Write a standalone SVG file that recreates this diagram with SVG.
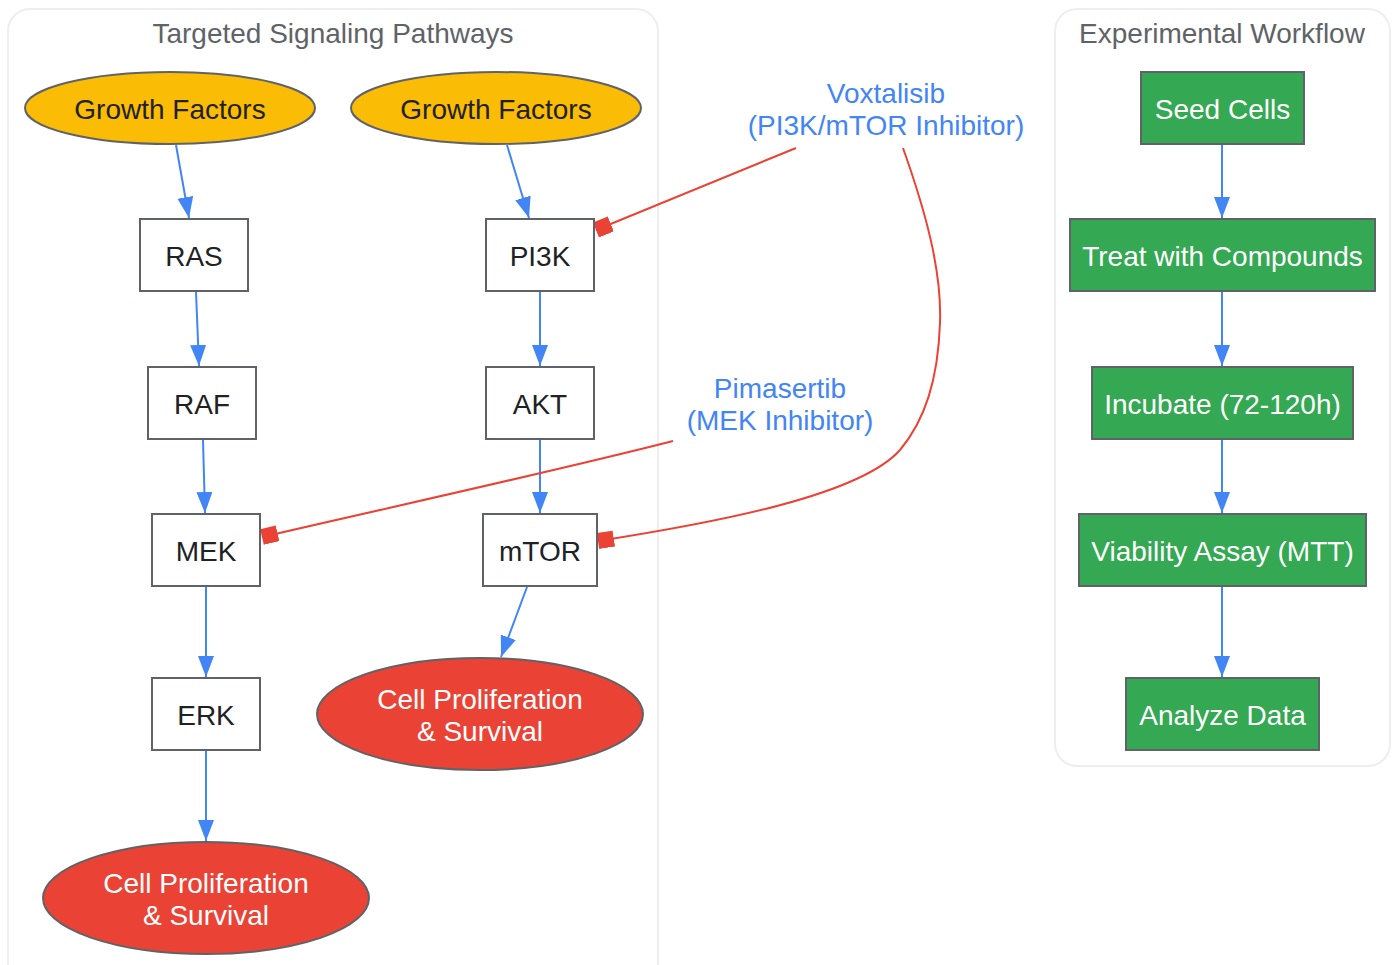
<svg xmlns="http://www.w3.org/2000/svg" width="1394" height="965" viewBox="0 0 1394 965">
<style>
text{font-family:"Liberation Sans",Arial,sans-serif;font-size:28px;text-anchor:middle}
.cl{fill:#ffffff;stroke:#eeeeee;stroke-width:2}
.ct{fill:#5f6368}
.box{fill:#ffffff;stroke:#5f6368;stroke-width:2}
.gf{fill:#fbbc05;stroke:#5f6368;stroke-width:2}
.cp{fill:#ea4335;stroke:#5f6368;stroke-width:2}
.wf{fill:#34a853;stroke:#5f6368;stroke-width:2}
.dk{fill:#202124}
.wt{fill:#ffffff}
.lb{fill:#4285f4}
.e{fill:none;stroke:#4285f4;stroke-width:2;marker-end:url(#arr)}
.inh{fill:none;stroke:#ea4335;stroke-width:2;marker-end:url(#tee)}
</style>
<defs>
<marker id="arr" markerUnits="userSpaceOnUse" markerWidth="24" markerHeight="18" refX="21" refY="8" orient="auto">
<path d="M0,0 L21,8 L0,16 z" fill="#4285f4"/>
</marker>
<marker id="tee" markerUnits="userSpaceOnUse" markerWidth="18" markerHeight="18" refX="16" refY="8" orient="auto">
<rect x="0" y="0" width="16" height="16" fill="#ea4335"/>
</marker>
</defs>
<rect width="1394" height="965" fill="#ffffff"/>
<g id="cluster_pathways">
<rect class="cl" x="8" y="9" width="650" height="980" rx="22"/>
<text class="ct" x="333" y="43">Targeted Signaling Pathways</text>
</g>
<g id="cluster_workflow">
<rect class="cl" x="1055" y="9" width="335" height="757" rx="22"/>
<text class="ct" x="1222" y="43">Experimental Workflow</text>
</g>
<g id="connectors">
<path class="e" d="M176,145 L189,218"/>
<path class="e" d="M507,145 L529,218"/>
<path class="e" d="M196,292 L199,366"/>
<path class="e" d="M203,440 L205,513"/>
<path class="e" d="M206,587 L206,677"/>
<path class="e" d="M206,751 L206,841"/>
<path class="e" d="M540,292 L540,366"/>
<path class="e" d="M540,440 L540,513"/>
<path class="e" d="M527,587 L501,657"/>
<path class="e" d="M1222,145 L1222,218"/>
<path class="e" d="M1222,292 L1222,366"/>
<path class="e" d="M1222,440 L1222,513"/>
<path class="e" d="M1222,587 L1222,677"/>
<path class="inh" d="M796,148 L596,230"/>
<path class="inh" d="M903,148 C925,210 942,270 940,323 C938,380 925,420 900,450 C860,495 720,522 598,541"/>
<path class="inh" d="M673,441 C560,470 400,505 262,537"/>
<text class="lb" x="886" y="103">Voxtalisib</text>
<text class="lb" x="886" y="135">(PI3K/mTOR Inhibitor)</text>
<text class="lb" x="780" y="398">Pimasertib</text>
<text class="lb" x="780" y="430">(MEK Inhibitor)</text>
</g>
<g id="GF1"><ellipse class="gf" cx="170" cy="108" rx="145" ry="36"/><text class="dk" x="170" y="119">Growth Factors</text></g>
<g id="GF2"><ellipse class="gf" cx="496" cy="108" rx="145" ry="36"/><text class="dk" x="496" y="119">Growth Factors</text></g>
<g id="RAS"><rect class="box" x="140" y="219" width="108" height="72"/><text class="dk" x="194" y="266">RAS</text></g>
<g id="RAF"><rect class="box" x="148" y="367" width="108" height="72"/><text class="dk" x="202" y="414">RAF</text></g>
<g id="MEK"><rect class="box" x="152" y="514" width="108" height="72"/><text class="dk" x="206" y="561">MEK</text></g>
<g id="ERK"><rect class="box" x="152" y="678" width="108" height="72"/><text class="dk" x="206" y="725">ERK</text></g>
<g id="CP1"><ellipse class="cp" cx="206" cy="898" rx="163" ry="56"/><text class="wt" x="206" y="893">Cell Proliferation</text><text class="wt" x="206" y="925">&amp; Survival</text></g>
<g id="PI3K"><rect class="box" x="486" y="219" width="108" height="72"/><text class="dk" x="540" y="266">PI3K</text></g>
<g id="AKT"><rect class="box" x="486" y="367" width="108" height="72"/><text class="dk" x="540" y="414">AKT</text></g>
<g id="mTOR"><rect class="box" x="483" y="514" width="114" height="72"/><text class="dk" x="540" y="561">mTOR</text></g>
<g id="CP2"><ellipse class="cp" cx="480" cy="714" rx="163" ry="56"/><text class="wt" x="480" y="709">Cell Proliferation</text><text class="wt" x="480" y="741">&amp; Survival</text></g>
<g id="Seed"><rect class="wf" x="1141" y="72" width="163" height="72"/><text class="wt" x="1222.5" y="119">Seed Cells</text></g>
<g id="Treat"><rect class="wf" x="1070" y="219" width="305" height="72"/><text class="wt" x="1222.5" y="266">Treat with Compounds</text></g>
<g id="Incubate"><rect class="wf" x="1092" y="367" width="261" height="72"/><text class="wt" x="1222.5" y="414">Incubate (72-120h)</text></g>
<g id="Viability"><rect class="wf" x="1079" y="514" width="287" height="72"/><text class="wt" x="1222.5" y="561">Viability Assay (MTT)</text></g>
<g id="Analyze"><rect class="wf" x="1126" y="678" width="193" height="72"/><text class="wt" x="1222.5" y="725">Analyze Data</text></g>
</svg>
